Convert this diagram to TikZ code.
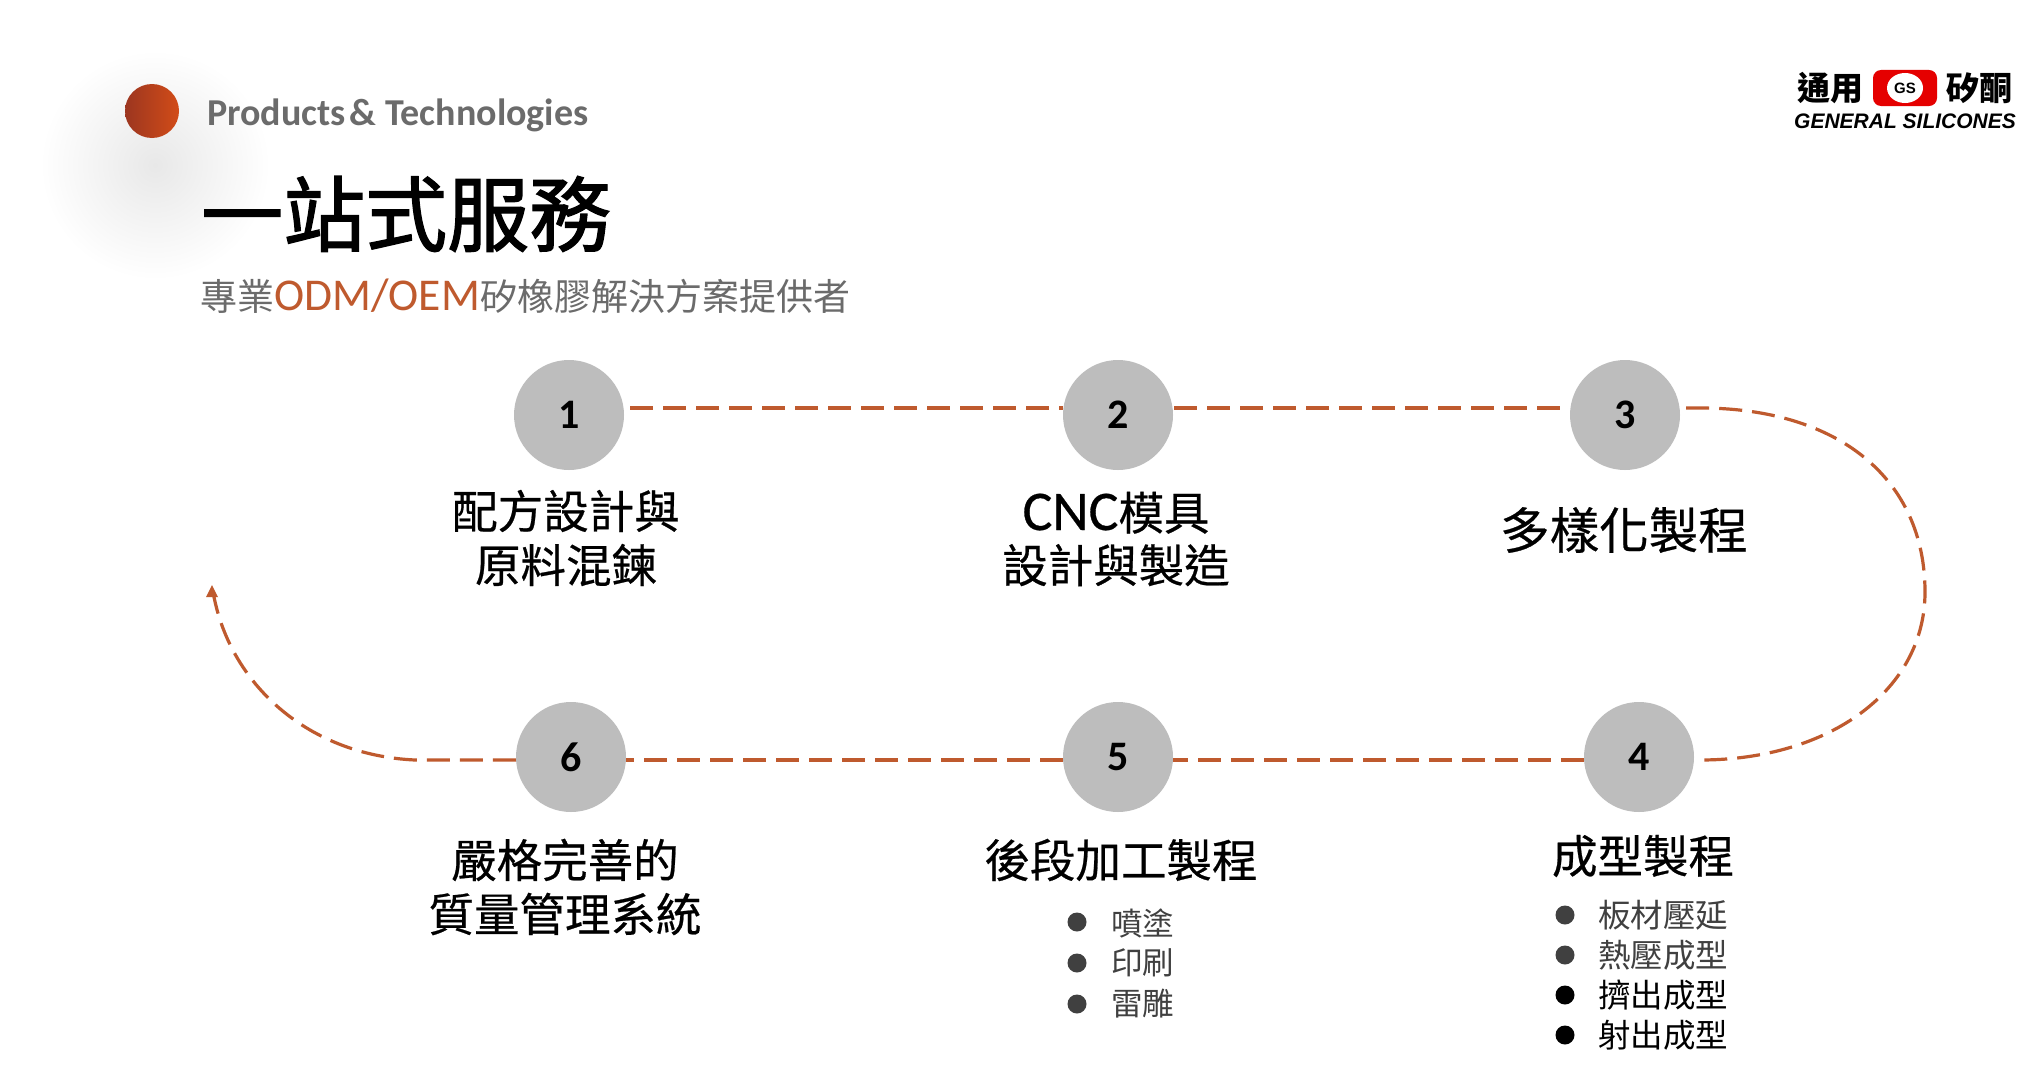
\documentclass[tikz,border=0pt]{standalone}
\usepackage{fontspec}
\setmainfont{Noto Sans CJK TC}
\newfontfamily\labelf[FakeBold=0.5]{Noto Sans CJK TC}
\newfontfamily\titlef[FakeBold=1.6]{Noto Sans CJK TC}
\newfontfamily\latinf{Carlito}
\newfontfamily\cnclat[FakeBold=0.5]{Carlito}
\newfontfamily\logof{Liberation Sans}
\usetikzlibrary{arrows.meta,calc,shadings,shapes.geometric}
\definecolor{rust}{HTML}{BF5A2E}
\definecolor{balll}{HTML}{9C3620}
\definecolor{ballr}{HTML}{D24C18}
\definecolor{numgray}{HTML}{BDBDBD}
\definecolor{txtgray}{HTML}{6B6B6B}
\definecolor{itemgray}{HTML}{404040}
\newcommand{\fs}[1]{\fontsize{#1pt}{#1pt}\selectfont}
\tikzset{
  x=1pt,y=-1pt,
  numnode/.style={circle,fill=numgray,minimum size=110pt,inner sep=0pt,font=\latinf\bfseries\fs{42},text=black},
  label/.style={inner sep=0pt,align=center,font=\labelf\fs{45.5},text=black},
  itemtext/.style={inner sep=0pt,anchor=west,font=\fs{31.5},text=itemgray},
  itemdot/.style={circle,fill=itemgray,minimum size=19pt,inner sep=0pt},
  flow/.style={draw=rust,line width=3.2pt,dash pattern=on 23pt off 10pt},
}
\begin{document}
\begin{tikzpicture}
\useasboundingbox (0,0) rectangle (2018,1065);
\fill[white] (0,0) rectangle (2018,1065);
% header
\shade[inner color=black!9,outer color=white] (155,165) circle[radius=115pt];
\shade[left color=balll,right color=ballr,draw=none] (152,111) circle[radius=27pt];
\node[inner sep=0pt,anchor=west,font=\latinf\bfseries\fs{38},text=txtgray] (head) at (207,115) {Products\hspace{4pt}\& Technologies};
\node[inner sep=0pt,anchor=west,font=\titlef\fs{82},text=black] (title) at (201,214) {一站式服務};
\node[inner sep=0pt,anchor=west,font=\fs{37},text=txtgray] (sub) at (200,296) {專業{\latinf\fs{45.5}\textcolor{rust}{ODM/OEM}}矽橡膠解決方案提供者};
% logo
\node[inner sep=0pt,font=\bfseries\fs{33},text=black] (lg1) at (1830,88) {通用};
\node[inner sep=0pt,font=\bfseries\fs{33},text=black] (lg2) at (1979,88) {矽酮};
\node[fill=red!90!black,rounded corners=8pt,minimum width=64pt,minimum height=36pt,inner sep=0pt] (lgr) at (1905,88) {};
\node[ellipse,fill=white,minimum width=36pt,minimum height=30pt,inner sep=0pt,font=\logof\bfseries\fs{15}] (lgc) at (1905,88) {GS};
\node[inner sep=0pt,anchor=west,font=\logof\bfseries\itshape\fs{21},text=black] (lgt) at (1794,121) {GENERAL SILICONES};
% numbered nodes
\node[numnode] (c1) at (569,415) {1};
\node[numnode] (c2) at (1118,415) {2};
\node[numnode] (c3) at (1625,415) {3};
\node[numnode] (c4) at (1639,757) {4};
\node[numnode] (c5) at (1118,757) {5};
\node[numnode] (c6) at (571,757) {6};
% connectors
\coordinate (rtop) at (1700,408);
\coordinate (rmid) at (1925,592);
\coordinate (rbot) at (1700,760);
\coordinate (lbot) at (415,760);
\coordinate (ltip) at (212,585);
\draw[flow] ([xshift=6pt,yshift=7pt]c1.east) -- ([yshift=7pt]c2.west);
\draw[flow] ([xshift=1pt,yshift=7pt]c2.east) -- ([yshift=7pt]c3.west);
\draw[flow] ([xshift=6pt,yshift=7pt]c3.east) -- (rtop) .. controls (1840,408) and (1925,480) .. (rmid) .. controls (1925,690) and (1830,760) .. (rbot) -- ([xshift=5pt,yshift=-3pt]c4.east);
\draw[flow] ([yshift=-3pt]c4.west) -- ([yshift=-3pt]c5.east);
\draw[flow] ([yshift=-3pt]c5.west) -- ([yshift=-3pt]c6.east);
\draw[flow] ([yshift=-3pt]c6.west) -- (lbot) .. controls (305,755) and (225,680) .. (ltip);
\fill[rust] (212,585) -- (218,597) -- (206,597) -- cycle;
% labels
\node[label] (l1) at (566,538) {配方設計與\\[8.5pt]原料混鍊};
\node[label] (l2) at (1116,539) {{\cnclat\fs{56}CNC}模具\\[7pt]設計與製造};
\node[label,font=\labelf\fs{49.5}] (l3) at (1624,530) {多樣化製程};
\node[label] (l6) at (565,887) {嚴格完善的\\[8.5pt]質量管理系統};
\node[label] (l5) at (1121,860) {後段加工製程};
\node[label] (l4) at (1643,856) {成型製程};
% lists
\node[itemdot] (d51) at (1077,922) {}; \node[itemtext] (t51) at (1111,923) {噴塗};
\node[itemdot] (d52) at (1077,963) {}; \node[itemtext] (t52) at (1111,963) {印刷};
\node[itemdot] (d53) at (1077,1004) {}; \node[itemtext] (t53) at (1111,1004) {雷雕};
\node[itemdot] (d41) at (1565,915) {}; \node[itemtext,font=\fs{32.5}] (t41) at (1598,915) {板材壓延};
\node[itemdot] (d42) at (1565,955) {}; \node[itemtext,font=\fs{32.5}] (t42) at (1598,955) {熱壓成型};
\node[itemdot,fill=black] (d43) at (1565,995) {}; \node[itemtext,font=\fs{32.5},text=black] (t43) at (1598,995) {擠出成型};
\node[itemdot,fill=black] (d44) at (1565,1035) {}; \node[itemtext,font=\fs{32.5},text=black] (t44) at (1598,1035) {射出成型};
\end{tikzpicture}
\end{document}
